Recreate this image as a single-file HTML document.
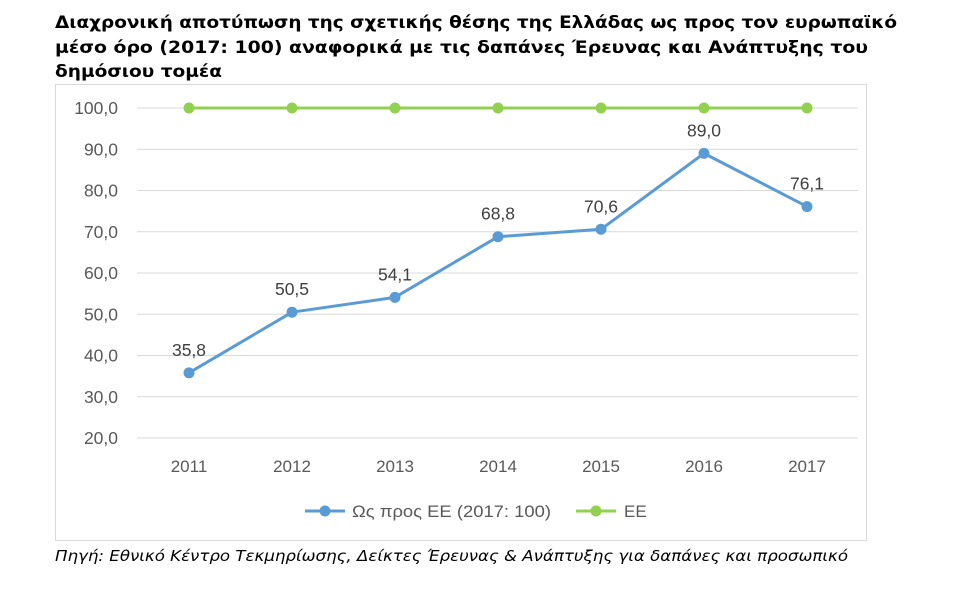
<!DOCTYPE html>
<html><head><meta charset="utf-8"><style>
body{margin:0;width:957px;height:592px;background:#fff;overflow:hidden;font-family:"Liberation Sans",sans-serif}
svg{position:absolute;left:0;top:0}
</style></head><body>
<svg width="957" height="592" id="chart">
<g font-family="DejaVu Sans, sans-serif" font-weight="bold" font-size="17" fill="#000">
<text x="55" y="28" textLength="842" lengthAdjust="spacingAndGlyphs">Διαχρονική αποτύπωση της σχετικής θέσης της Ελλάδας ως προς τον ευρωπαϊκό</text>
<text x="55" y="53" textLength="813" lengthAdjust="spacingAndGlyphs">μέσο όρο (2017: 100) αναφορικά με τις δαπάνες Έρευνας και Ανάπτυξης του</text>
<text x="55" y="77" textLength="167" lengthAdjust="spacingAndGlyphs">δημόσιου τομέα</text>
</g>
<rect x="55.5" y="84.5" width="811" height="456" fill="#fff" stroke="#d9d9d9"/>
<g id="grid"></g><g id="series"></g>
<g font-size="17" fill="#595959">
<line x1="305" y1="511" x2="345" y2="511" stroke="#5b9bd5" stroke-width="3"/>
<circle cx="325" cy="511" r="5.5" fill="#5b9bd5"/>
<text x="352" y="517" textLength="199" lengthAdjust="spacingAndGlyphs">Ως προς ΕΕ (2017: 100)</text>
<line x1="576" y1="511" x2="616" y2="511" stroke="#92d050" stroke-width="3"/>
<circle cx="596" cy="511" r="5.5" fill="#92d050"/>
<text x="624" y="517">ΕΕ</text>
</g>
<text x="55" y="561" font-family="DejaVu Sans, sans-serif" font-style="italic" font-size="15" fill="#000" textLength="793" lengthAdjust="spacingAndGlyphs">Πηγή: Εθνικό Κέντρο Τεκμηρίωσης, Δείκτες Έρευνας &amp; Ανάπτυξης για δαπάνες και προσωπικό</text>
</svg>
<script>
const years=["2011","2012","2013","2014","2015","2016","2017"];
const greece=[35.8,50.5,54.1,68.8,70.6,89.0,76.1];
const eu=[100,100,100,100,100,100,100];
const yTicks=[20,30,40,50,60,70,80,90,100];
const NS="http://www.w3.org/2000/svg";
const x=i=>189+i*103;
const y=v=>438-(v-20)*4.125;
const fmt=v=>v.toFixed(1).replace('.',',');
function mk(t,a,p){const e=document.createElementNS(NS,t);for(const k in a)e.setAttribute(k,a[k]);p.appendChild(e);return e;}
const g=document.getElementById('grid'),s=document.getElementById('series');
yTicks.forEach(v=>{
 const l=mk('line',{x1:137,x2:858,y1:y(v),y2:y(v),stroke:'#d9d9d9','stroke-width':1},g);
 
 
 const t=mk('text',{x:118,y:y(v)+6,'text-anchor':'end','font-size':17.5,fill:'#595959'},g);
 t.textContent=fmt(v);
 
 
});
years.forEach((yr,i)=>{
 const t=mk('text',{x:x(i),y:472,'text-anchor':'middle','font-size':17,fill:'#595959'},g);
 t.textContent=yr;
 
 
});
function line(data,color,name,labels){
 const p=mk('polyline',{points:data.map((v,i)=>x(i)+','+y(v)).join(' '),fill:'none',stroke:color,'stroke-width':3,'stroke-linejoin':'round'},s);
 
 
 data.forEach((v,i)=>{
  const c=mk('circle',{cx:x(i),cy:y(v),r:5.5,fill:color},s);
  
  
  if(labels){
   const t=mk('text',{x:x(i),y:y(v)-17,'text-anchor':'middle','font-size':17.5,fill:'#404040'},s);
   t.textContent=fmt(v);
   
   
  }
 });
}
line(eu,'#92d050','eu',false);
line(greece,'#5b9bd5','greece',true);
</script>
</body></html>
